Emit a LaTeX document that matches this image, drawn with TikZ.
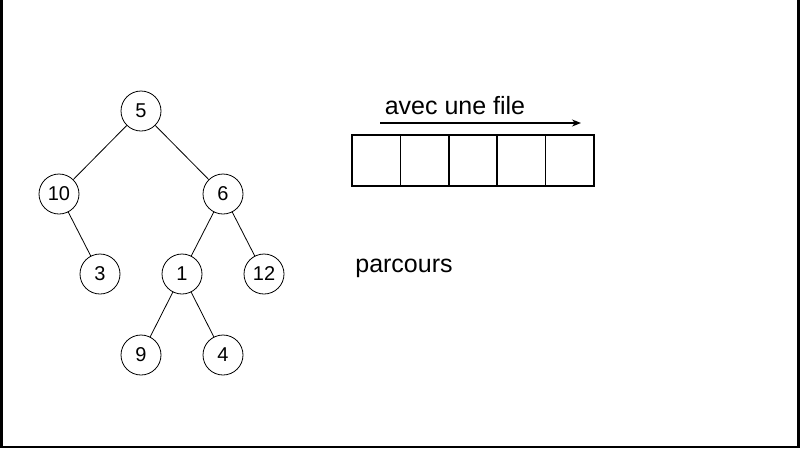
\documentclass[tikz,border=0pt]{standalone}
\usepackage{fontspec}
\setmainfont{Liberation Sans}
\usetikzlibrary{arrows.meta}
\begin{document}
\begin{tikzpicture}[x=1pt,y=-1pt,
  nd/.style={circle,draw,line width=0.8pt,minimum size=40pt,inner sep=0pt,font=\fontsize{20}{22}\selectfont},
  cell/.style={draw,line width=1.5pt,minimum width=48.4pt,minimum height=51pt,inner sep=0pt},
  lbl/.style={font=\fontsize{25}{27}\selectfont}]
\useasboundingbox (0,0) rectangle (800,448);
\fill (0,0) rectangle (3,448);
\fill (797,0) rectangle (800,448);
\fill (0,446) rectangle (800,448);
\node[nd] (n5) at (141,111) {5};
\node[nd] (n10) at (59,194) {10};
\node[nd] (n6) at (223,194) {6};
\node[nd] (n3) at (100,274) {3};
\node[nd] (n1) at (182,274) {1};
\node[nd] (n12) at (264,274) {12};
\node[nd] (n9) at (141,355) {9};
\node[nd] (n4) at (223,355) {4};
\draw[line width=0.8pt] (n5)--(n10) (n5)--(n6) (n10)--(n3) (n6)--(n1) (n6)--(n12) (n1)--(n9) (n1)--(n4);
\foreach \i in {0,...,4}{
  \node[cell] (c\i) at (376.2+48.4*\i,160.5) {};
}
\coordinate (a1) at (380,123);
\coordinate (a2) at (581,123);
\draw[line width=1.3pt,-{Stealth[length=9pt,width=7pt]}] (a1)--(a2);
\node[lbl] (t1) at (455,106) {avec une file};
\node[lbl] (t2) at (404,268) {parcours};
\end{tikzpicture}
\end{document}
